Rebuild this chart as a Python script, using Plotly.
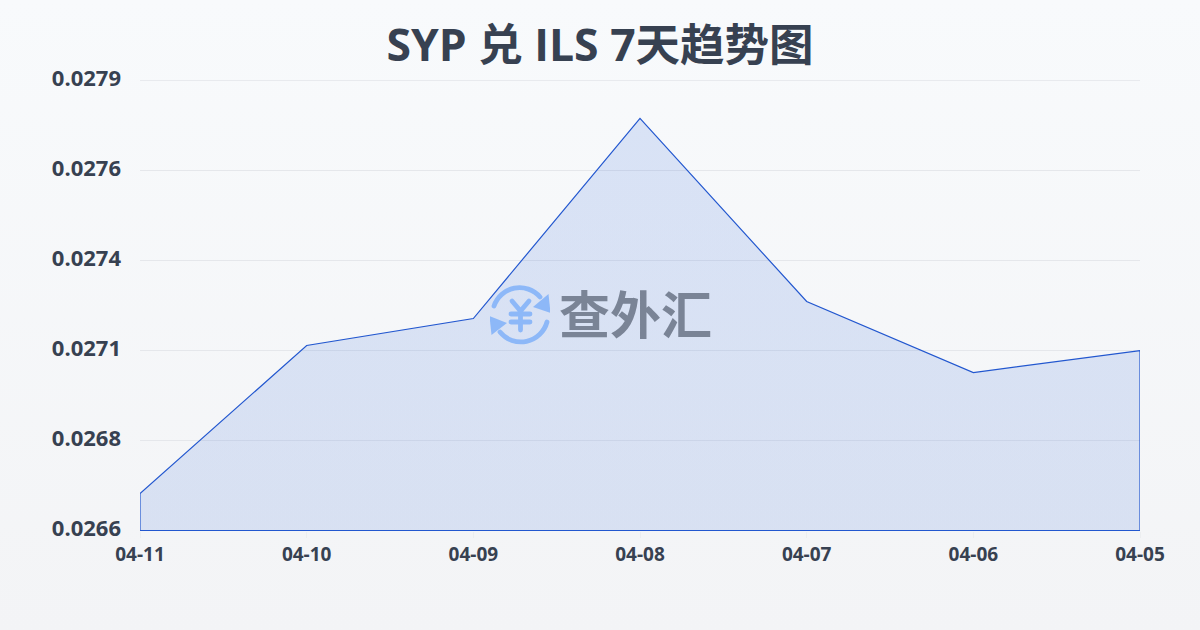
import base64
import plotly.graph_objects as go

title = "SYP 兑 ILS 7天趋势图"
dates = ["04-11", "04-10", "04-09", "04-08", "04-07", "04-06", "04-05"]
rates = [0.026661, 0.027105, 0.027186, 0.027786, 0.027237, 0.027024, 0.02709]
y_ticks = [0.02655, 0.02682, 0.02709, 0.02736, 0.02763, 0.0279]
y_labels = ["0.0266", "0.0268", "0.0271", "0.0274", "0.0276", "0.0279"]

INK = "#374151"
GRID = "#e5e7eb"
FONT = "Open Sans, Noto Sans CJK SC, sans-serif"
PH = 451
bg_svg = ('<svg xmlns="http://www.w3.org/2000/svg" width="1200" height="630">'
          '<defs><linearGradient id="g" x1="0" y1="0" x2="0" y2="1">'
          '<stop offset="0" stop-color="#f8fafc"/><stop offset="1" stop-color="#f3f4f6"/>'
          '</linearGradient></defs><rect width="1200" height="630" fill="url(#g)"/></svg>')
logo_svg = ('<svg xmlns="http://www.w3.org/2000/svg" viewBox="0 0 60 60" width="60" height="60">'
            '<g fill="none" stroke="#8db8f8" stroke-width="4.8" stroke-linecap="round">'
            '<path d="M4 21 A27 27 0 0 1 50 12"/><path d="M57 37 A27 27 0 0 1 10 47"/>'
            '<path d="M22 16 L30.5 26 L39 16 M21 29 H40 M21 37 H40 M30.5 26 V45"/></g>'
            '<path d="M60.5 28 L58.5 9 L43 22 Z" fill="#8db8f8"/>'
            '<path d="M-0.5 31 L1.5 50 L17 38 Z" fill="#8db8f8"/></svg>')


def uri(svg):
    return "data:image/svg+xml;base64," + base64.b64encode(svg.encode()).decode()


fig = go.Figure()
fig.add_trace(go.Scatter(
    x=[dates[0], dates[-1]], y=[y_ticks[-1], y_ticks[-1]], mode="lines",
    line=dict(color=GRID, width=1), hoverinfo="skip", showlegend=False,
))
fig.add_trace(go.Scatter(
    x=dates + [dates[-1], dates[0], dates[0]],
    y=rates + [y_ticks[0], y_ticks[0], rates[0]],
    mode="lines",
    line=dict(color="#2257cf", width=1.2),
    fill="toself",
    fillgradient=dict(type="vertical", colorscale=[[0, "rgba(59,110,215,0.15)"], [1, "rgba(59,110,220,0.16)"]]),
    cliponaxis=False,
    hoverinfo="skip",
    showlegend=False,
))
fig.update_layout(
    width=1200, height=630,
    margin=dict(l=140, r=59.5, t=80, b=99),
    paper_bgcolor="rgba(0,0,0,0)",
    plot_bgcolor="rgba(0,0,0,0)",
    font=dict(family=FONT, color=INK),
    title=dict(text="<b>" + title + "</b>", x=0.5, xanchor="center", y=0.928, yanchor="middle",
               font=dict(size=44.5, color=INK, family=FONT)),
    xaxis=dict(type="category", categoryorder="array", categoryarray=dates, range=[0, 6],
               showgrid=False, zeroline=False, showline=False,
               ticks="outside", ticklen=6, tickcolor="#eceef0", tickwidth=1,
               tickfont=dict(size=19, color=INK, family=FONT, weight="bold")),
    yaxis=dict(range=[y_ticks[0] - 1e-6, y_ticks[-1] + 1e-6], tickmode="array", tickvals=y_ticks, ticktext=y_labels,
               showgrid=True, gridcolor=GRID, gridwidth=1, zeroline=False, showline=False,
               ticks="", ticklabelstandoff=18, ticklabelshift=-2,
               tickfont=dict(size=22, color=INK, family=FONT, weight="bold")),
    images=[
        dict(source=uri(bg_svg), xref="paper", yref="paper", x=-140/1000, y=1+80/PH,
             sizex=1.2, sizey=630/PH, sizing="stretch", xanchor="left", yanchor="top", layer="below"),
        dict(source=uri(logo_svg), xref="paper", yref="paper", x=490/1000-0.14, y=1-(285-80)/PH,
             sizex=0.06, sizey=60/PH, sizing="contain", xanchor="left", yanchor="top", layer="above"),
    ],
    annotations=[dict(text="<b>查外汇</b>", xref="paper", yref="paper", x=(635.5-140)/1000, y=1-(312-80)/PH,
                      xanchor="center", yanchor="middle", showarrow=False,
                      font=dict(size=51, color="#7a8496", family="Noto Sans CJK SC"))],
)
fig.write_html("out.html", config={"displayModeBar": False}, post_script="document.body.style.margin='0';")
